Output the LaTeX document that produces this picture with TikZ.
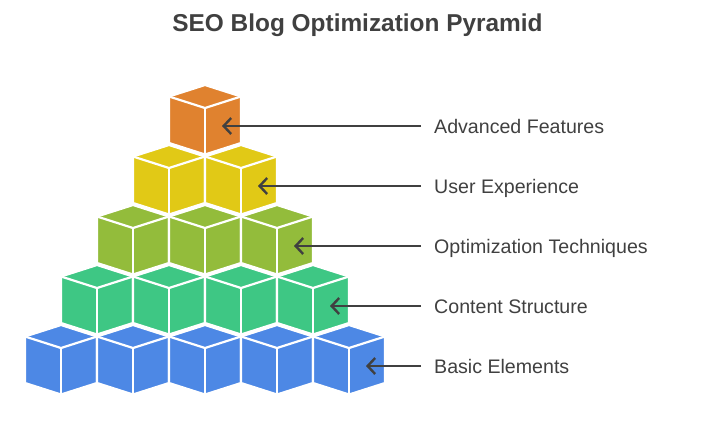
\documentclass[tikz,border=0pt]{standalone}
\usepackage{fontspec}
\setmainfont{Liberation Sans}
\usetikzlibrary{arrows.meta}
\definecolor{cOrange}{HTML}{E0822F}
\definecolor{cYellow}{HTML}{E1C916}
\definecolor{cOlive}{HTML}{93BC3B}
\definecolor{cGreen}{HTML}{3EC784}
\definecolor{cBlue}{HTML}{4D88E5}
\definecolor{txt}{HTML}{404040}
\tikzset{
  cubeface/.style={draw=white, line width=2.2pt, line join=miter},
  cubeline/.style={draw=white, line width=2.2pt},
  lbl/.style={anchor=base west, inner sep=0pt, text=txt, font=\fontsize{19.6}{22}\selectfont},
  ttl/.style={anchor=base, inner sep=0pt, text=txt, font=\fontsize{24.4}{28}\selectfont\bfseries},
  pointer/.style={draw=txt, line width=2.2pt, -{Straight Barb[length=7.5pt,width=16pt,line width=2.4pt]}}
}
\newcommand\drawcube[3]{%
  \filldraw[cubeface, fill=#3] (#1,#2) -- ++(36,11.5) -- ++(0,46.5) -- ++(-36,11.5) -- ++(-36,-11.5) -- ++(0,-46.5) -- cycle;
  \draw[cubeline] (#1-36,#2+11.5) -- (#1,#2+23) -- (#1+36,#2+11.5);
  \draw[cubeline] (#1,#2+23) -- (#1,#2+69.5);
}
\begin{document}
\begin{tikzpicture}[x=1pt,y=-1pt]
\useasboundingbox (0,0) rectangle (708,421);
\node[ttl] (title) at (357.5,31) {SEO Blog Optimization Pyramid};
% rows of cubes, bottom to top
\foreach \i in {0,...,4} { \drawcube{61+72*\i}{325}{cBlue} }
\foreach \i in {0,...,3} { \drawcube{97+72*\i}{265}{cGreen} }
\foreach \i in {0,...,2} { \drawcube{133+72*\i}{205}{cOlive} }
\foreach \i in {0,...,1} { \drawcube{169+72*\i}{145}{cYellow} }
\drawcube{205}{85}{cOrange}
% labels
\node[lbl] (l1) at (434,133) {Advanced Features};
\node[lbl] (l2) at (434,193) {User Experience};
\node[lbl] (l3) at (434,253) {Optimization Techniques};
\node[lbl] (l4) at (434,313) {Content Structure};
\node[lbl] (l5) at (434,373) {Basic Elements};
% arrow coordinates
\coordinate (s1) at (421,126); \coordinate (t1) at (222,126);
\coordinate (s2) at (421,186); \coordinate (t2) at (258,186);
\coordinate (s3) at (421,246); \coordinate (t3) at (294,246);
\coordinate (s4) at (421,306); \coordinate (t4) at (330,306);
\coordinate (s5) at (421,366); \coordinate (t5) at (366,366);
\foreach \k in {1,...,5} { \draw[pointer] (s\k) -- (t\k); }
\end{tikzpicture}
\end{document}
